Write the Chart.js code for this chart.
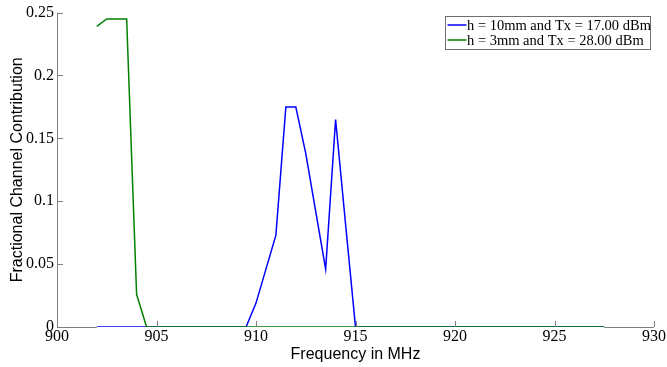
<!DOCTYPE html>
<html><head><meta charset="utf-8">
<script src="https://cdn.jsdelivr.net/npm/chart.js@4/dist/chart.umd.min.js"></script>
<style>html,body{margin:0;padding:0;background:#fff}#wrap{width:667px;height:367px}</style>
</head><body><div id="wrap"><canvas id="c" width="667" height="367"></canvas></div>
<script>
const freqs = [902,902.5,903,903.5,904,904.5,905,905.5,906,906.5,907,907.5,908,908.5,909,909.5,910,910.5,911,911.5,912,912.5,913,913.5,914,914.5,915,915.5,916,916.5,917,917.5,918,918.5,919,919.5,920,920.5,921,921.5,922,922.5,923,923.5,924,924.5,925,925.5,926,926.5,927,927.5];
const blueValues = [0,0,0,0,0,0,0,0,0,0,0,0,0,0,0,0,0.019,0.046,0.073,0.175,0.175,0.138,0.092,0.046,0.165,0.082,0,0,0,0,0,0,0,0,0,0,0,0,0,0,0,0,0,0,0,0,0,0,0,0,0,0];
const greenValues = [0.239,0.245,0.245,0.245,0.026,0,0,0,0,0,0,0,0,0,0,0,0,0,0,0,0,0,0,0,0,0,0,0,0,0,0,0,0,0,0,0,0,0,0,0,0,0,0,0,0,0,0,0,0,0,0,0];
const seriesLabels = ["h = 10mm and Tx = 17.00 dBm","h = 3mm and Tx = 28.00 dBm"];
const xTicks = [900,905,910,915,920,925,930];
const yTicks = [0,0.05,0.1,0.15,0.2,0.25];
const yTickLabels = ["0","0.05","0.1","0.15","0.2","0.25"];

const toPts = vals => freqs.map((f,i)=>({x:f,y:vals[i]}));
const AX = '#7f7f7f';

const innerTicks = {
  id:'innerTicks',
  afterDatasetsDraw(chart){
    const {ctx, chartArea:a, scales:{x,y}} = chart;
    ctx.save();
    ctx.strokeStyle = AX; ctx.lineWidth = 1;
    ctx.beginPath();
    ctx.moveTo(a.left+0.5, a.top); ctx.lineTo(a.left+0.5, a.bottom+0.5);
    ctx.moveTo(a.left+0.5, a.bottom+0.5); ctx.lineTo(x.getPixelForValue(902), a.bottom+0.5);
    ctx.moveTo(x.getPixelForValue(927.5), a.bottom+0.5); ctx.lineTo(a.right, a.bottom+0.5);
    xTicks.forEach(v=>{const p=Math.round(x.getPixelForValue(v))+0.5; ctx.moveTo(p,a.bottom); ctx.lineTo(p,a.bottom-6);});
    yTicks.forEach(v=>{const p=Math.round(y.getPixelForValue(v))+0.5; ctx.moveTo(a.left,p); ctx.lineTo(a.left+6,p);});
    ctx.stroke();
    // legend
    const lx=445.5, ly=16.5, lw=205, lh=33;
    ctx.fillStyle='#fff'; ctx.fillRect(lx,ly,lw,lh);
    ctx.strokeStyle='#6e6e6e'; ctx.strokeRect(lx,ly,lw,lh);
    ctx.font='14.5px "Liberation Serif"'; ctx.textBaseline='middle'; ctx.fillStyle='#000';
    chart.data.datasets.forEach((d,i)=>{
      const yy = ly+8.5+i*15;
      ctx.strokeStyle=d.borderColor; ctx.lineWidth=1.5;
      ctx.beginPath(); ctx.moveTo(lx+2,yy); ctx.lineTo(lx+21,yy); ctx.stroke();
      ctx.fillText(d.label, lx+21.5, yy+1);
    });
    ctx.restore();
  }
};

new Chart(document.getElementById('c'),{
  type:'line',
  data:{datasets:[
    {label:seriesLabels[0], data:toPts(blueValues), borderColor:'#0000ff', borderWidth:1.5, pointRadius:0, tension:0, fill:false, order:1},
    {label:seriesLabels[1], data:toPts(greenValues), borderColor:'#008000', borderWidth:1.5, pointRadius:0, tension:0, fill:false, order:0}
  ]},
  options:{
    responsive:false, animation:false,
    layout:{padding:{top:12,right:13,left:0,bottom:0}},
    plugins:{legend:{display:false}, tooltip:{enabled:false}},
    scales:{
      x:{type:'linear', min:900, max:930,
        afterBuildTicks:s=>{s.ticks=xTicks.map(v=>({value:v}));},
        afterFit:s=>{s.height=40;},
        grid:{display:false, drawTicks:false}, border:{display:false},
        ticks:{padding:0, color:'#000', font:{family:'"Liberation Serif"', size:16}, maxRotation:0, callback:v=>String(v)},
        title:{display:true, text:'Frequency in MHz', color:'#000', font:{family:'"Liberation Sans"', size:16}, padding:{top:0,bottom:3}}
      },
      y:{min:0, max:0.25,
        afterBuildTicks:s=>{s.ticks=yTicks.map(v=>({value:v}));},
        afterFit:s=>{s.width=57;},
        grid:{display:false, drawTicks:false}, border:{display:false},
        ticks:{padding:3, color:'#000', font:{family:'"Liberation Serif"', size:16}, callback:(v)=>yTickLabels[yTicks.indexOf(v)] ?? String(v)},
        title:{display:true, text:'Fractional Channel Contribution', color:'#000', font:{family:'"Liberation Sans"', size:16}, padding:{top:8,bottom:0}}
      }
    }
  },
  plugins:[innerTicks]
});
</script></body></html>
